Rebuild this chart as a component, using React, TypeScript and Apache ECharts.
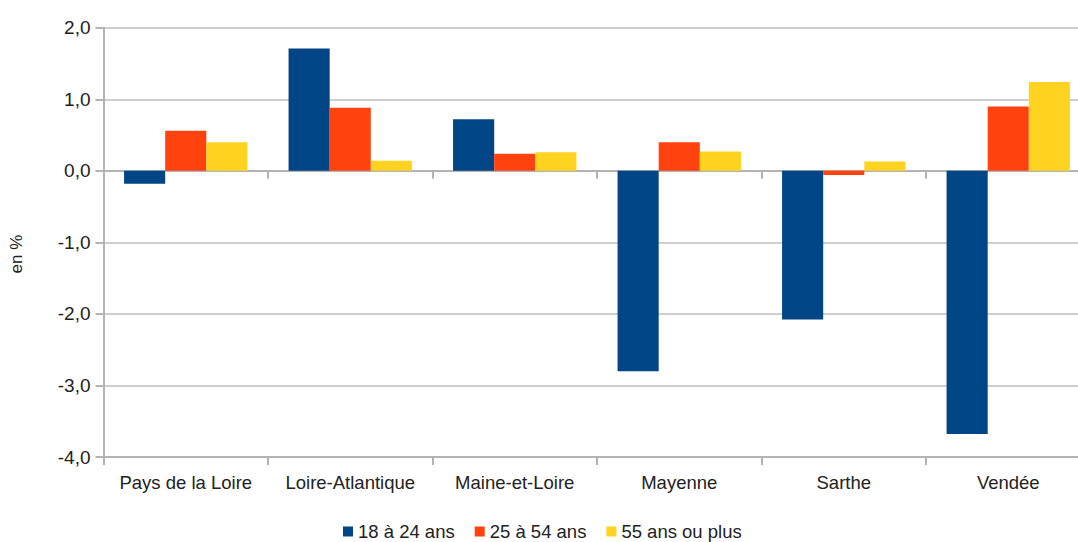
import React, { useEffect, useRef } from "react";
import * as echarts from "echarts";

const categories = [
  "Pays de la Loire",
  "Loire-Atlantique",
  "Maine-et-Loire",
  "Mayenne",
  "Sarthe",
  "Vendée",
];
const seriesNames = ["18 à 24 ans", "25 à 54 ans", "55 ans ou plus"];
const age18to24 = [-0.18, 1.71, 0.72, -2.8, -2.08, -3.68];
const age25to54 = [0.56, 0.88, 0.24, 0.4, -0.06, 0.9];
const age55plus = [0.4, 0.14, 0.26, 0.27, 0.13, 1.24];
const colors = ["#004586", "#ff420e", "#ffd320"];

const FONT = "'Liberation Sans', Arial, sans-serif";
const TEXT = "#222222";
const AXIS = "#b3b3b3";
const GRID = "#cfcfcf";

// The plot runs slightly past the right edge of the visible frame.
const VIEW_W = 1078;
const VIEW_H = 542;
const CHART_W = 1091;

export default function App() {
  const ref = useRef<HTMLDivElement>(null);

  useEffect(() => {
    if (!ref.current) return;
    const chart = echarts.init(ref.current, undefined, { renderer: "svg" });
    const fmt = (v: number) => v.toFixed(1).replace(".", ",");
    const values = [age18to24, age25to54, age55plus];

    chart.setOption({
      animation: false,
      backgroundColor: "#ffffff",
      textStyle: { fontFamily: FONT },
      grid: { left: 103.5, top: 27.7, right: 0.5, bottom: 85, containLabel: false },
      legend: {
        top: 517,
        left: 338,
        itemWidth: 10,
        itemHeight: 10,
        itemGap: 20,
        icon: "rect",
        textStyle: { fontSize: 18.5, color: TEXT, fontFamily: FONT },
        data: seriesNames,
      },
      graphic: [
        {
          type: "text",
          x: 16,
          y: 254,
          rotation: Math.PI / 2,
          style: {
            text: "en %",
            fontSize: 17,
            fill: TEXT,
            fontFamily: FONT,
            align: "center",
            verticalAlign: "middle",
          },
        },
      ],
      xAxis: [
        {
          type: "category",
          data: categories,
          position: "bottom",
          axisLine: { onZero: false, lineStyle: { color: AXIS, width: 2 } },
          axisTick: { show: true, length: 8, lineStyle: { color: AXIS, width: 2 } },
          axisLabel: { interval: 0, fontSize: 18.5, color: TEXT, margin: 16, fontFamily: FONT },
          splitLine: { show: false },
        },
        {
          type: "category",
          data: categories,
          position: "bottom",
          axisLine: { onZero: true, lineStyle: { color: AXIS, width: 2 } },
          axisTick: { show: true, interval: 0, length: 8, lineStyle: { color: AXIS, width: 2 } },
          axisLabel: { show: false },
          splitLine: { show: false },
        },
      ],
      yAxis: {
        type: "value",
        min: -4,
        max: 2,
        interval: 1,
        axisLine: { show: true, lineStyle: { color: AXIS, width: 2 } },
        axisTick: { show: true, length: 8, lineStyle: { color: AXIS, width: 2 } },
        axisLabel: {
          fontSize: 19,
          color: TEXT,
          margin: 13,
          fontFamily: FONT,
          formatter: fmt,
        },
        splitLine: { show: true, lineStyle: { color: GRID, width: 2 } },
      },
      series: seriesNames.map((name, i) => ({
        name,
        type: "bar",
        xAxisIndex: 0,
        data: values[i],
        barGap: "0%",
        barCategoryGap: "25%",
        itemStyle: { color: colors[i] },
      })),
    });

    return () => chart.dispose();
  }, []);

  return (
    <div
      style={{
        position: "fixed",
        left: 0,
        top: 0,
        width: VIEW_W,
        height: VIEW_H,
        overflow: "hidden",
        background: "#ffffff",
      }}
    >
      <div ref={ref} style={{ width: CHART_W, height: VIEW_H }} />
    </div>
  );
}
